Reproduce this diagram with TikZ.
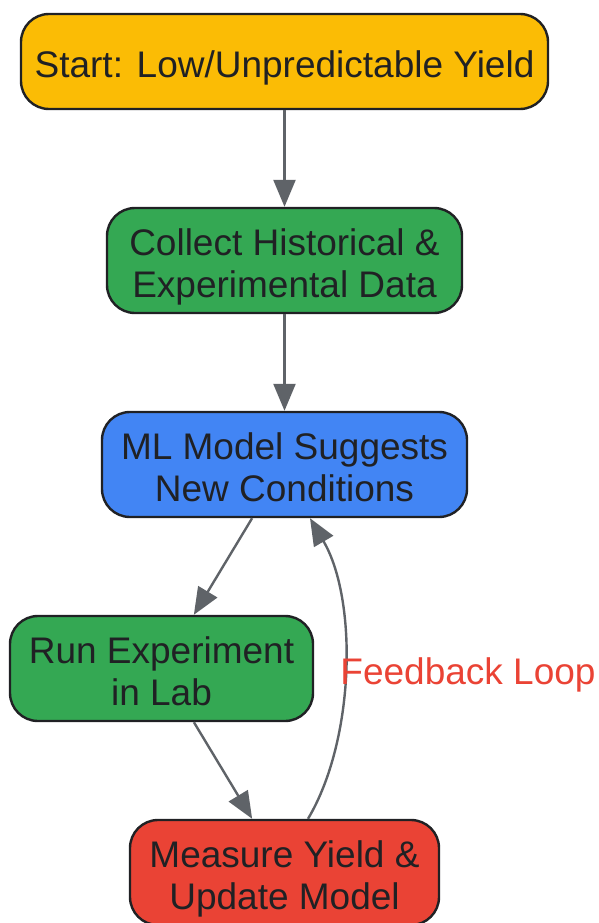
\documentclass[tikz,border=0pt]{standalone}
\usepackage{fontspec}
\setmainfont{Liberation Sans}
\usetikzlibrary{arrows.meta}
\definecolor{startcol}{HTML}{FBBC05}
\definecolor{greencol}{HTML}{34A853}
\definecolor{bluecol}{HTML}{4285F4}
\definecolor{redcol}{HTML}{EA4335}
\definecolor{edgecol}{HTML}{202124}
\definecolor{arrowcol}{HTML}{5F6368}
\begin{document}
\begin{tikzpicture}[x=1pt,y=-1pt,
   box/.style={draw=edgecol,line width=2.4pt,rounded corners=28pt,text=edgecol,
      align=center,inner sep=0pt,minimum height=105pt,font=\fontsize{37}{42}\selectfont,
      execute at end node={\rule[-8.5pt]{0pt}{#1}}},
   box/.default=49.4pt,
   flow/.style={draw=arrowcol,line width=2.4pt,-{Triangle[length=27pt,width=22pt]}}]
   \useasboundingbox (0,0) rectangle (599,923);

   \node[box,fill=startcol,minimum width=527pt,minimum height=95pt] (start) at (284.5,61.5) {Start: Low/Unpredictable Yield};
   \node[box=91.4pt,fill=greencol,minimum width=355pt] (collect) at (284.5,260.5) {Collect Historical \&\\Experimental Data};
   \node[box=91.4pt,fill=bluecol,minimum width=365pt] (ml) at (284.5,464.5) {ML Model Suggests\\New Conditions};
   \node[box=91.4pt,fill=greencol,minimum width=303pt] (run) at (161.5,668.5) {Run Experiment\\in Lab};
   \node[box=91.4pt,fill=redcol,minimum width=309pt] (meas) at (284.5,872.5) {Measure Yield \&\\Update Model};

   \draw[flow] (start) -- (collect);
   \draw[flow] (collect) -- (ml);
   \draw[flow] (ml) -- (run);
   \draw[flow] (run) -- (meas);
   % feedback back up to the model
   \draw[flow] ([xshift=23.5pt]meas.north) .. controls (355,740) and (358,600) .. ([xshift=25.5pt]ml.south);
   \node[text=redcol,font=\fontsize{37}{42}\selectfont] (fblabel) at (468,675) {Feedback Loop};

 \end{tikzpicture}
\end{document}
